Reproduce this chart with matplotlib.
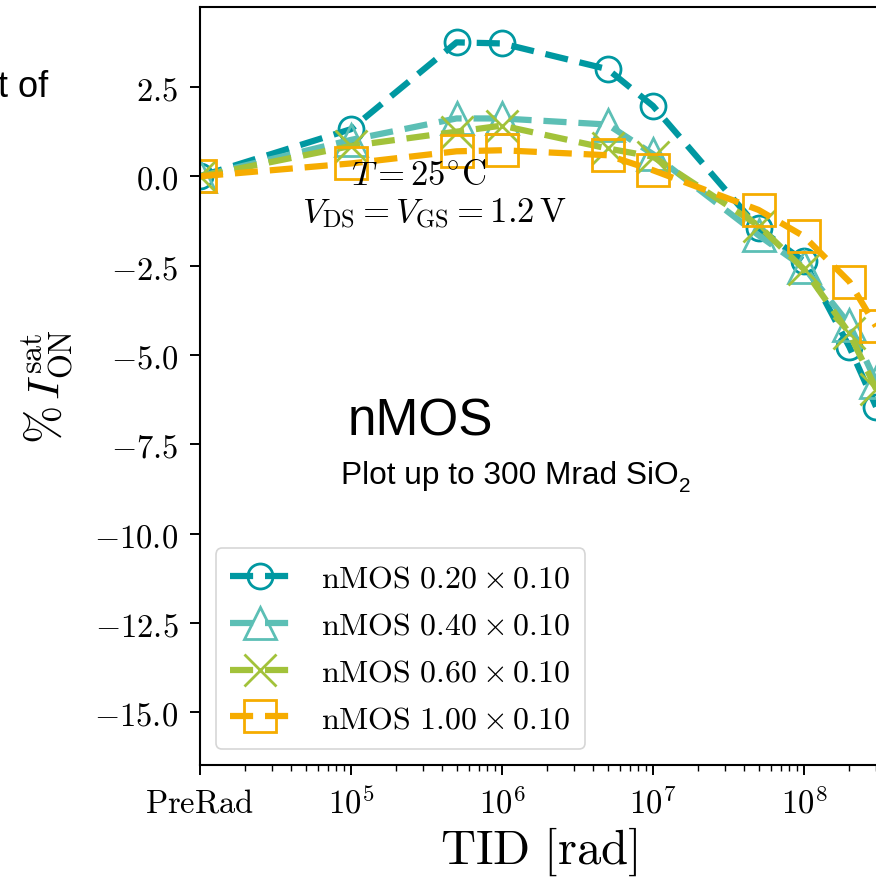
import matplotlib
matplotlib.use("Agg")
import matplotlib.pyplot as plt
from matplotlib.ticker import LogLocator, NullFormatter, FixedLocator

plt.rcParams['mathtext.fontset'] = 'cm'
plt.rcParams['font.family'] = ['DejaVu Serif']

# ---- data ----
tid = [1e4, 1e5, 5e5, 1e6, 5e6, 1e7, 5e7, 1e8, 2e8, 3e8]   # 1e4 stands for PreRad
s020 = [0.0, 1.32, 3.75, 3.72, 3.0, 1.97, -1.45, -2.38, -4.78, -6.45]
s040 = [0.0, 1.02, 1.62, 1.62, 1.45, 0.62, -1.65, -2.55, -4.15, -5.75]
s060 = [0.0, 0.85, 1.25, 1.42, 0.78, 0.55, -1.38, -2.6, -4.4, -5.95]
s100 = [0.0, 0.36, 0.7, 0.73, 0.59, 0.17, -0.94, -1.68, -2.95, -4.2]
labels = [r'$\mathrm{nMOS}\ 0.20 \times 0.10$', r'$\mathrm{nMOS}\ 0.40 \times 0.10$',
          r'$\mathrm{nMOS}\ 0.60 \times 0.10$', r'$\mathrm{nMOS}\ 1.00 \times 0.10$']
xtick_vals = [1e4, 1e5, 1e6, 1e7, 1e8]
xtick_labels = [r'$\mathrm{PreRad}$', r'$10^{5}$', r'$10^{6}$', r'$10^{7}$', r'$10^{8}$']
ytick_vals = [2.5, 0.0, -2.5, -5.0, -7.5, -10.0, -12.5, -15.0]

colors = ['#0098A1', '#5CBFB5', '#A2C23A', '#F6AC00']
markers = ['o', '^', 'x', 's']
msizes = [18, 23, 23, 23]

W, H = 876, 879
AX_W = 678
fig = plt.figure(figsize=(W / 100, H / 100), dpi=100)
ax = fig.add_axes([200 / W, 113 / H, AX_W / W, 758 / H])

for ys, c, m, ms, lab in zip([s020, s040, s060, s100], colors, markers, msizes, labels):
    ax.plot(tid, ys, color=c, lw=4.5, linestyle=(0, (3.7, 1.9)), marker=m, ms=ms,
            mfc='none', mec=c, mew=2.0, label=lab)

ax.set_xscale('log')
ax.set_xlim(1e4, 10 ** (4 + AX_W / 151))
ax.set_ylim(-16.48, 4.74)
ax.xaxis.set_major_locator(FixedLocator(xtick_vals))
ax.set_xticklabels(xtick_labels)
ax.xaxis.set_minor_locator(LogLocator(base=10, subs=[2, 3, 4, 5, 6, 7, 8, 9]))
ax.xaxis.set_minor_formatter(NullFormatter())
ax.set_yticks(ytick_vals)
ax.set_yticklabels(['$%.1f$' % v for v in ytick_vals])
ax.tick_params(axis='both', which='major', direction='out', length=7.5, width=1.4,
               labelsize=23.5, pad=8)
ax.tick_params(axis='x', which='minor', direction='out', length=4, width=1.0)
for sp in ax.spines.values():
    sp.set_linewidth(1.5)

ax.set_xlabel(r'$\mathrm{TID}\ [\mathrm{rad}]$', fontsize=35, labelpad=4)
ax.set_ylabel(r'$\%\, I_{\mathrm{ON}}^{\mathrm{sat}}$', fontsize=33, labelpad=14)

ax.text((419 - 200) / AX_W, (766 - 175) / 758, r'$T = 25^{\circ}\mathrm{C}$',
        transform=ax.transAxes, ha='center', va='center', fontsize=25)
ax.text((434 - 200) / AX_W, (766 - 214) / 758,
        r'$V_{\mathrm{DS}} = V_{\mathrm{GS}} = 1.2\,\mathrm{V}$',
        transform=ax.transAxes, ha='center', va='center', fontsize=25)

leg = ax.legend(loc='lower left', fontsize=23, handlelength=1.85, numpoints=1,
                labelspacing=0.5, borderpad=0.45, handletextpad=1.0)
leg.get_frame().set_linewidth(1.2)

# slide overlay texts
sans = ['Liberation Sans', 'DejaVu Sans']
fig.text(348 / W, 1 - 435 / H, 'nMOS', family=sans, fontsize=37, ha='left', va='baseline')
t = fig.text(341 / W, 1 - 484 / H, 'Plot up to 300 Mrad SiO', family=sans, fontsize=22.8,
             ha='left', va='baseline')
fig.canvas.draw()
bb = t.get_window_extent()
fig.text(bb.x1 / W, 1 - 492 / H, '2', family=sans, fontsize=15, ha='left', va='baseline')
fig.text(48 / W, 1 - 97 / H, 't of', family=sans, fontsize=26, ha='right', va='baseline')

fig.savefig('out.png', dpi=100)
